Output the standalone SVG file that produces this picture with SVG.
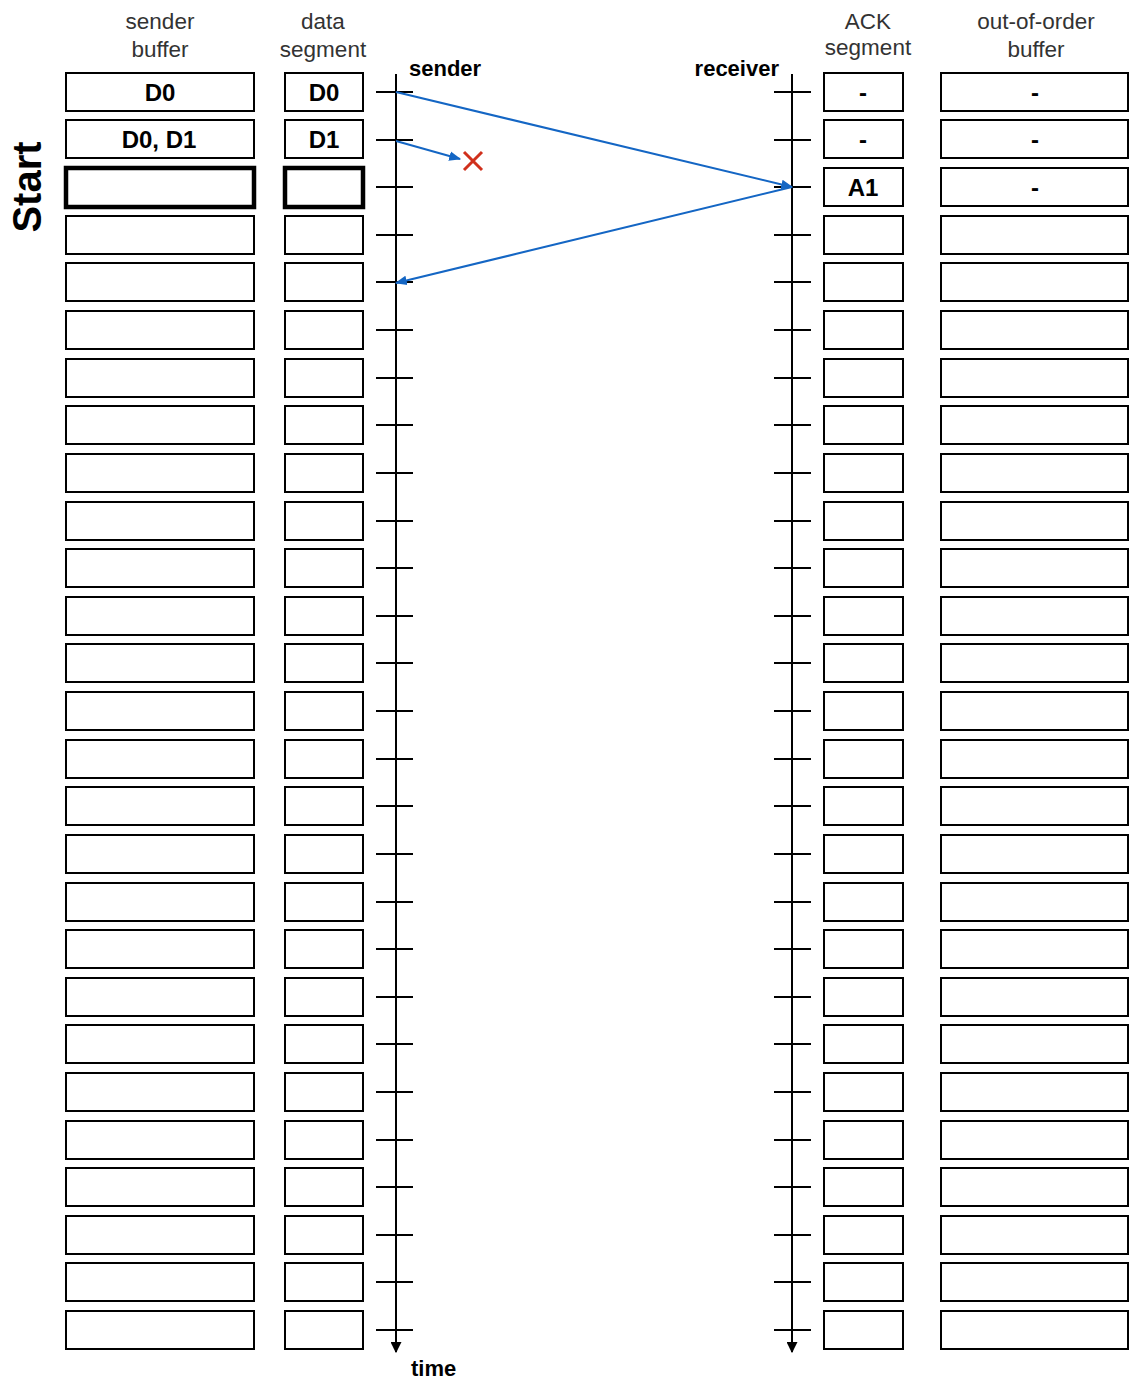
<svg xmlns="http://www.w3.org/2000/svg" width="1129" height="1383" viewBox="0 0 1129 1383">
<style>
.b{fill:#fff;stroke:#000;stroke-width:2}
.bt{fill:#fff;stroke:#000;stroke-width:4.5}
.h{font-family:"Liberation Sans",Arial,sans-serif;font-size:22.5px;fill:#333;text-anchor:middle}
.v{font-family:"Liberation Sans",Arial,sans-serif;font-size:24px;font-weight:bold;fill:#000;text-anchor:middle}
.l{font-family:"Liberation Sans",Arial,sans-serif;font-size:22px;font-weight:bold;fill:#000}
.ax{stroke:#000;stroke-width:2;fill:none}
.tk{stroke:#000;stroke-width:2}
.bl{stroke:#1466c4;stroke-width:2;fill:none}
</style>
<defs>
<marker id="ab" viewBox="0 0 10 10" refX="9" refY="5" markerWidth="6" markerHeight="6" orient="auto"><path d="M0,1 L10,5 L0,9 Z" fill="#1466c4"/></marker>
<marker id="ak" viewBox="0 0 10 10" refX="9" refY="5" markerWidth="5.5" markerHeight="5.5" orient="auto"><path d="M0,0 L10,5 L0,10 Z" fill="#000"/></marker>
</defs>
<g id="headers">
<text class="h" x="160" y="29">sender</text><text class="h" x="160" y="57">buffer</text>
<text class="h" x="323" y="29">data</text><text class="h" x="323" y="57">segment</text>
<text class="h" x="868" y="29">ACK</text><text class="h" x="868" y="55">segment</text>
<text class="h" x="1036" y="29">out-of-order</text><text class="h" x="1036" y="57">buffer</text>
<text class="l" x="409" y="76">sender</text>
<text class="l" x="779" y="76" text-anchor="end">receiver</text>
<text class="l" x="411" y="1376">time</text>
<text transform="translate(41,187) rotate(-90)" font-family="Liberation Sans,Arial,sans-serif" font-size="40" font-weight="bold" text-anchor="middle">Start</text>
</g>
<g id="timelines">
<line class="ax" x1="396" y1="74" x2="396" y2="1352" marker-end="url(#ak)"/>
<line class="ax" x1="792" y1="74" x2="792" y2="1352" marker-end="url(#ak)"/>
<path class="tk" d="M376,92H413M376,140H413M376,187H413M376,235H413M376,282H413M376,330H413M376,378H413M376,425H413M376,473H413M376,521H413M376,568H413M376,616H413M376,663H413M376,711H413M376,759H413M376,806H413M376,854H413M376,902H413M376,949H413M376,997H413M376,1044H413M376,1092H413M376,1140H413M376,1187H413M376,1235H413M376,1282H413M376,1330H413"/>
<path class="tk" d="M774,92H811M774,140H811M774,187H811M774,235H811M774,282H811M774,330H811M774,378H811M774,425H811M774,473H811M774,521H811M774,568H811M774,616H811M774,663H811M774,711H811M774,759H811M774,806H811M774,854H811M774,902H811M774,949H811M774,997H811M774,1044H811M774,1092H811M774,1140H811M774,1187H811M774,1235H811M774,1282H811M774,1330H811"/>
</g>
<g id="connectors">
<line class="bl" x1="396" y1="92" x2="792" y2="187" marker-end="url(#ab)"/>
<line class="bl" x1="396" y1="141" x2="460" y2="159" marker-end="url(#ab)"/>
<line class="bl" x1="792" y1="187" x2="396" y2="283" marker-end="url(#ab)"/>
<path d="M464,152L482,170M482,152L464,170" stroke="#d0301c" stroke-width="3" fill="none"/>
</g>
<g id="r0"><g id="sb0"><rect class="b" x="66" y="73" width="188" height="38"/><text class="v" x="160" y="101">D0</text></g><g id="ds0"><rect class="b" x="285" y="73" width="78" height="38"/><text class="v" x="324" y="101">D0</text></g><g id="ack0"><rect class="b" x="824" y="73" width="79" height="38"/><text class="v" x="863" y="101">-</text></g><g id="oo0"><rect class="b" x="941" y="73" width="187" height="38"/><text class="v" x="1035" y="101">-</text></g></g>
<g id="r1"><g id="sb1"><rect class="b" x="66" y="120" width="188" height="38"/><text class="v" x="159" y="148">D0, D1</text></g><g id="ds1"><rect class="b" x="285" y="120" width="78" height="38"/><text class="v" x="324" y="148">D1</text></g><g id="ack1"><rect class="b" x="824" y="120" width="79" height="38"/><text class="v" x="863" y="148">-</text></g><g id="oo1"><rect class="b" x="941" y="120" width="187" height="38"/><text class="v" x="1035" y="148">-</text></g></g>
<g id="r2"><g id="sb2"><rect class="bt" x="66" y="168" width="188" height="39"/></g><g id="ds2"><rect class="bt" x="285" y="168" width="78" height="39"/></g><g id="ack2"><rect class="b" x="824" y="168" width="79" height="38"/><text class="v" x="863" y="196">A1</text></g><g id="oo2"><rect class="b" x="941" y="168" width="187" height="38"/><text class="v" x="1035" y="196">-</text></g></g>
<g id="r3"><g id="sb3"><rect class="b" x="66" y="216" width="188" height="38"/></g><g id="ds3"><rect class="b" x="285" y="216" width="78" height="38"/></g><g id="ack3"><rect class="b" x="824" y="216" width="79" height="38"/></g><g id="oo3"><rect class="b" x="941" y="216" width="187" height="38"/></g></g>
<g id="r4"><g id="sb4"><rect class="b" x="66" y="263" width="188" height="38"/></g><g id="ds4"><rect class="b" x="285" y="263" width="78" height="38"/></g><g id="ack4"><rect class="b" x="824" y="263" width="79" height="38"/></g><g id="oo4"><rect class="b" x="941" y="263" width="187" height="38"/></g></g>
<g id="r5"><g id="sb5"><rect class="b" x="66" y="311" width="188" height="38"/></g><g id="ds5"><rect class="b" x="285" y="311" width="78" height="38"/></g><g id="ack5"><rect class="b" x="824" y="311" width="79" height="38"/></g><g id="oo5"><rect class="b" x="941" y="311" width="187" height="38"/></g></g>
<g id="r6"><g id="sb6"><rect class="b" x="66" y="359" width="188" height="38"/></g><g id="ds6"><rect class="b" x="285" y="359" width="78" height="38"/></g><g id="ack6"><rect class="b" x="824" y="359" width="79" height="38"/></g><g id="oo6"><rect class="b" x="941" y="359" width="187" height="38"/></g></g>
<g id="r7"><g id="sb7"><rect class="b" x="66" y="406" width="188" height="38"/></g><g id="ds7"><rect class="b" x="285" y="406" width="78" height="38"/></g><g id="ack7"><rect class="b" x="824" y="406" width="79" height="38"/></g><g id="oo7"><rect class="b" x="941" y="406" width="187" height="38"/></g></g>
<g id="r8"><g id="sb8"><rect class="b" x="66" y="454" width="188" height="38"/></g><g id="ds8"><rect class="b" x="285" y="454" width="78" height="38"/></g><g id="ack8"><rect class="b" x="824" y="454" width="79" height="38"/></g><g id="oo8"><rect class="b" x="941" y="454" width="187" height="38"/></g></g>
<g id="r9"><g id="sb9"><rect class="b" x="66" y="502" width="188" height="38"/></g><g id="ds9"><rect class="b" x="285" y="502" width="78" height="38"/></g><g id="ack9"><rect class="b" x="824" y="502" width="79" height="38"/></g><g id="oo9"><rect class="b" x="941" y="502" width="187" height="38"/></g></g>
<g id="r10"><g id="sb10"><rect class="b" x="66" y="549" width="188" height="38"/></g><g id="ds10"><rect class="b" x="285" y="549" width="78" height="38"/></g><g id="ack10"><rect class="b" x="824" y="549" width="79" height="38"/></g><g id="oo10"><rect class="b" x="941" y="549" width="187" height="38"/></g></g>
<g id="r11"><g id="sb11"><rect class="b" x="66" y="597" width="188" height="38"/></g><g id="ds11"><rect class="b" x="285" y="597" width="78" height="38"/></g><g id="ack11"><rect class="b" x="824" y="597" width="79" height="38"/></g><g id="oo11"><rect class="b" x="941" y="597" width="187" height="38"/></g></g>
<g id="r12"><g id="sb12"><rect class="b" x="66" y="644" width="188" height="38"/></g><g id="ds12"><rect class="b" x="285" y="644" width="78" height="38"/></g><g id="ack12"><rect class="b" x="824" y="644" width="79" height="38"/></g><g id="oo12"><rect class="b" x="941" y="644" width="187" height="38"/></g></g>
<g id="r13"><g id="sb13"><rect class="b" x="66" y="692" width="188" height="38"/></g><g id="ds13"><rect class="b" x="285" y="692" width="78" height="38"/></g><g id="ack13"><rect class="b" x="824" y="692" width="79" height="38"/></g><g id="oo13"><rect class="b" x="941" y="692" width="187" height="38"/></g></g>
<g id="r14"><g id="sb14"><rect class="b" x="66" y="740" width="188" height="38"/></g><g id="ds14"><rect class="b" x="285" y="740" width="78" height="38"/></g><g id="ack14"><rect class="b" x="824" y="740" width="79" height="38"/></g><g id="oo14"><rect class="b" x="941" y="740" width="187" height="38"/></g></g>
<g id="r15"><g id="sb15"><rect class="b" x="66" y="787" width="188" height="38"/></g><g id="ds15"><rect class="b" x="285" y="787" width="78" height="38"/></g><g id="ack15"><rect class="b" x="824" y="787" width="79" height="38"/></g><g id="oo15"><rect class="b" x="941" y="787" width="187" height="38"/></g></g>
<g id="r16"><g id="sb16"><rect class="b" x="66" y="835" width="188" height="38"/></g><g id="ds16"><rect class="b" x="285" y="835" width="78" height="38"/></g><g id="ack16"><rect class="b" x="824" y="835" width="79" height="38"/></g><g id="oo16"><rect class="b" x="941" y="835" width="187" height="38"/></g></g>
<g id="r17"><g id="sb17"><rect class="b" x="66" y="883" width="188" height="38"/></g><g id="ds17"><rect class="b" x="285" y="883" width="78" height="38"/></g><g id="ack17"><rect class="b" x="824" y="883" width="79" height="38"/></g><g id="oo17"><rect class="b" x="941" y="883" width="187" height="38"/></g></g>
<g id="r18"><g id="sb18"><rect class="b" x="66" y="930" width="188" height="38"/></g><g id="ds18"><rect class="b" x="285" y="930" width="78" height="38"/></g><g id="ack18"><rect class="b" x="824" y="930" width="79" height="38"/></g><g id="oo18"><rect class="b" x="941" y="930" width="187" height="38"/></g></g>
<g id="r19"><g id="sb19"><rect class="b" x="66" y="978" width="188" height="38"/></g><g id="ds19"><rect class="b" x="285" y="978" width="78" height="38"/></g><g id="ack19"><rect class="b" x="824" y="978" width="79" height="38"/></g><g id="oo19"><rect class="b" x="941" y="978" width="187" height="38"/></g></g>
<g id="r20"><g id="sb20"><rect class="b" x="66" y="1025" width="188" height="38"/></g><g id="ds20"><rect class="b" x="285" y="1025" width="78" height="38"/></g><g id="ack20"><rect class="b" x="824" y="1025" width="79" height="38"/></g><g id="oo20"><rect class="b" x="941" y="1025" width="187" height="38"/></g></g>
<g id="r21"><g id="sb21"><rect class="b" x="66" y="1073" width="188" height="38"/></g><g id="ds21"><rect class="b" x="285" y="1073" width="78" height="38"/></g><g id="ack21"><rect class="b" x="824" y="1073" width="79" height="38"/></g><g id="oo21"><rect class="b" x="941" y="1073" width="187" height="38"/></g></g>
<g id="r22"><g id="sb22"><rect class="b" x="66" y="1121" width="188" height="38"/></g><g id="ds22"><rect class="b" x="285" y="1121" width="78" height="38"/></g><g id="ack22"><rect class="b" x="824" y="1121" width="79" height="38"/></g><g id="oo22"><rect class="b" x="941" y="1121" width="187" height="38"/></g></g>
<g id="r23"><g id="sb23"><rect class="b" x="66" y="1168" width="188" height="38"/></g><g id="ds23"><rect class="b" x="285" y="1168" width="78" height="38"/></g><g id="ack23"><rect class="b" x="824" y="1168" width="79" height="38"/></g><g id="oo23"><rect class="b" x="941" y="1168" width="187" height="38"/></g></g>
<g id="r24"><g id="sb24"><rect class="b" x="66" y="1216" width="188" height="38"/></g><g id="ds24"><rect class="b" x="285" y="1216" width="78" height="38"/></g><g id="ack24"><rect class="b" x="824" y="1216" width="79" height="38"/></g><g id="oo24"><rect class="b" x="941" y="1216" width="187" height="38"/></g></g>
<g id="r25"><g id="sb25"><rect class="b" x="66" y="1263" width="188" height="38"/></g><g id="ds25"><rect class="b" x="285" y="1263" width="78" height="38"/></g><g id="ack25"><rect class="b" x="824" y="1263" width="79" height="38"/></g><g id="oo25"><rect class="b" x="941" y="1263" width="187" height="38"/></g></g>
<g id="r26"><g id="sb26"><rect class="b" x="66" y="1311" width="188" height="38"/></g><g id="ds26"><rect class="b" x="285" y="1311" width="78" height="38"/></g><g id="ack26"><rect class="b" x="824" y="1311" width="79" height="38"/></g><g id="oo26"><rect class="b" x="941" y="1311" width="187" height="38"/></g></g>
</svg>
